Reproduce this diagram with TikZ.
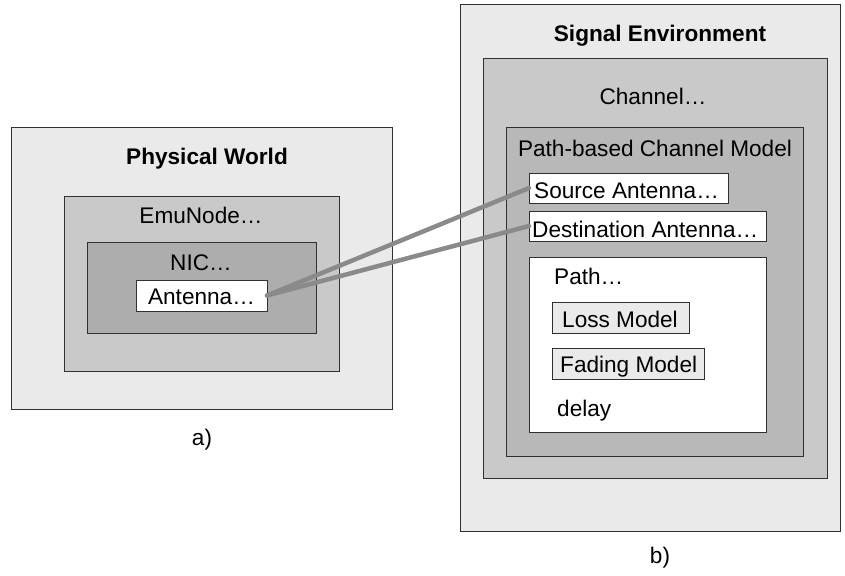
\documentclass[tikz,border=0pt]{standalone}
\usepackage{fontspec}
\setmainfont{Liberation Sans}
\definecolor{lv1}{HTML}{EAEAEA}
\definecolor{lv2}{HTML}{C9C9C9}
\definecolor{lvnic}{HTML}{ADADAD}
\definecolor{lvpb}{HTML}{B8B8B8}
\definecolor{bord}{HTML}{303030}
\definecolor{conncol}{HTML}{8A8A8A}
\begin{document}
\begin{tikzpicture}[x=1pt,y=-1pt,
  box/.style={draw=bord, line width=1pt, anchor=north west, inner sep=0pt, outer sep=0pt},
  txt/.style={font=\fontsize{22.6}{26}\selectfont, inner sep=0pt, anchor=base},
  ltxt/.style={txt, anchor=base west},
  btxt/.style={txt, font=\fontsize{22.6}{26}\selectfont\bfseries},
  conn/.style={draw=conncol, line width=4.5pt, line cap=round}]
\useasboundingbox (0,0) rectangle (845,575);
% a) Physical World
\node[box, fill=lv1, minimum width=381pt, minimum height=282pt] (pw) at (11,127) {};
\node[btxt] (pwt) at (207,164) {Physical World};
\node[box, fill=lv2, minimum width=275pt, minimum height=175pt] (emu) at (64,196) {};
\node[txt] (emut) at (201,223) {EmuNode…};
\node[box, fill=lvnic, minimum width=229pt, minimum height=91pt] (nic) at (87,242) {};
\node[txt] (nict) at (201,270) {NIC…};
\node[box, fill=white, minimum width=131pt, minimum height=31pt] (ant) at (136,280) {};
\node[txt] (antt) at (201.5,304) {Antenna…};
\node[txt] (la) at (202,445) {a)};
% b) Signal Environment
\node[box, fill=lv1, minimum width=380pt, minimum height=526pt] (se) at (460,5) {};
\node[btxt] (set) at (660,42) {Signal Environment};
\node[box, fill=lv2, minimum width=344pt, minimum height=419pt] (ch) at (483,59) {};
\node[txt] (cht) at (653,105) {Channel…};
\node[box, fill=lvpb, minimum width=297pt, minimum height=329pt] (pb) at (506,127) {};
\node[txt] (pbt) at (655,156) {Path-based Channel Model};
\node[box, fill=white, minimum width=199pt, minimum height=30pt] (src) at (529,173) {};
\node[ltxt] (srct) at (534,198) {Source Antenna…};
\node[box, fill=white, minimum width=237pt, minimum height=30pt] (dst) at (529,211) {};
\node[ltxt] (dstt) at (532,237) {Destination Antenna…};
\node[box, fill=white, minimum width=237pt, minimum height=175pt] (path) at (529,257) {};
\node[ltxt] (patht) at (554,284) {Path…};
\node[box, fill=lv1, minimum width=137pt, minimum height=31pt] (loss) at (552,302) {};
\node[ltxt] (losst) at (562,327) {Loss Model};
\node[box, fill=lv1, minimum width=152pt, minimum height=31pt] (fad) at (552,348) {};
\node[ltxt] (fadt) at (560,372) {Fading Model};
\node[ltxt] (delt) at (557,416) {delay};
\node[txt] (lb) at (660,563) {b)};
% connectors
\draw[conn] (ant.east) -- (src.west);
\draw[conn] (ant.east) -- (dst.west);
\end{tikzpicture}
\end{document}
